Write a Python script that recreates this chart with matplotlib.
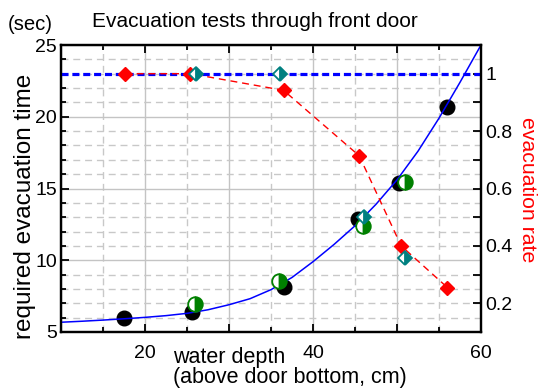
import matplotlib
matplotlib.use("Agg")
import matplotlib.pyplot as plt
from matplotlib.ticker import MultipleLocator, FixedLocator, FixedFormatter

plt.rcParams['font.family'] = ['Liberation Sans', 'DejaVu Sans']

# ---- data ----
time_black_x = [17.5, 25.6, 36.5, 45.3, 50.2, 55.9]
time_black_y = [5.95, 6.4, 8.12, 12.85, 15.4, 20.7]
time_green_x = [26.0, 36.0, 46.0, 51.0]
time_green_y = [6.95, 8.55, 12.4, 15.45]

curve_x = [10, 12.5, 15, 17.5, 20, 22.5, 25, 27.5, 30, 32.5, 35, 37.5, 40,
           42.5, 45, 47.5, 50, 52.5, 55, 57.5, 60]
curve_y = [5.68, 5.75, 5.83, 5.92, 6.02, 6.14, 6.3, 6.55, 6.9, 7.32, 7.95,
           8.8, 9.9, 11.1, 12.4, 13.9, 15.6, 17.6, 19.9, 22.4, 25.0]

rate_red_x = [17.6, 25.4, 36.5, 45.5, 50.5, 56.0]
rate_red_y = [1.0, 1.0, 0.942, 0.714, 0.40, 0.255]
rate_teal_x = [26.1, 36.1, 46.05, 51.0]
rate_teal_y = [1.0, 1.0, 0.50, 0.357]
rate_full = 1.0

xtick_vals = [10, 20, 30, 40, 50, 60]
xtick_labels = ['', '20', '', '40', '', '60']
ytick_vals = [5, 10, 15, 20, 25]
rtick_vals = [0.2, 0.4, 0.6, 0.8, 1.0]
rtick_labels = ['0.2', '0.4', '0.6', '0.8', '1']

# ---- figure ----
W, H = 539, 392
fig = plt.figure(figsize=(W / 100, H / 100), dpi=100)
ax = fig.add_axes([61 / W, 1 - 332 / H, 420 / W, 287 / H])
ax2 = ax.twinx()

ax.set_xlim(10, 60)
ax.set_ylim(5, 25)
ax2.set_ylim(0.1, 1.1)

ax.xaxis.set_major_locator(FixedLocator(xtick_vals))
ax.xaxis.set_major_formatter(FixedFormatter(xtick_labels))
ax.xaxis.set_minor_locator(MultipleLocator(5))
ax.yaxis.set_major_locator(FixedLocator(ytick_vals))
ax.yaxis.set_minor_locator(MultipleLocator(1))
ax2.yaxis.set_major_locator(FixedLocator(rtick_vals))
ax2.yaxis.set_major_formatter(FixedFormatter(rtick_labels))
ax2.yaxis.set_minor_locator(MultipleLocator(0.1))

ax.set_axisbelow(True)
ax.grid(which='major', color='#c4c4c4', linewidth=1.0, linestyle='-')
ax.grid(which='minor', color='#c8c8c8', linewidth=1.0, linestyle=(0, (5, 3.5)))

for a in (ax, ax2):
    for s in a.spines.values():
        s.set_linewidth(1.6)
        s.set_color('black')

ax.tick_params(axis='both', which='both', direction='in', top=True, right=False,
               width=1.3, labelsize=14)
ax.tick_params(axis='both', which='major', length=6)
ax.tick_params(axis='both', which='minor', length=3.5)
ax.tick_params(axis='x', which='both', pad=9)
ax.tick_params(axis='y', which='both', pad=3)
ax2.tick_params(axis='y', which='both', direction='in', width=1.3, labelsize=14, pad=3)
ax2.tick_params(axis='y', which='major', length=5.5)
ax2.tick_params(axis='y', which='minor', length=5.5)

# left axis: time
ax.plot(time_black_x, time_black_y, linestyle='none', marker='o', markersize=10.5,
        color='black', zorder=3)
ax.plot(curve_x, curve_y, color='#0000ff', linewidth=1.1, zorder=4)
ax.plot(time_green_x, time_green_y, linestyle='none', marker='o', markersize=10.5,
        markerfacecolor='#008000', markerfacecoloralt='white', fillstyle='right',
        markeredgecolor='#008000', markeredgewidth=1.3, zorder=5)

# right axis: rate
ax2.axhline(rate_full, color='#0000ff', linewidth=2.3, linestyle=(0, (2.2, 1.2)), zorder=2)
ax2.plot(rate_red_x, rate_red_y, color='#ff0000', linewidth=1.0,
         linestyle=(0, (5, 3.5)), zorder=3)
ax2.plot(rate_red_x, rate_red_y, linestyle='none', marker='D', markersize=7.2,
         color='#ff0000', zorder=4)
ax2.plot(rate_teal_x, rate_teal_y, linestyle='none', marker='D', markersize=7.0,
         markerfacecolor='#008080', markerfacecoloralt='white', fillstyle='right',
         markeredgecolor='#008080', markeredgewidth=1.3, zorder=5)

# texts
fig.text(255 / W, 1 - 27 / H, 'Evacuation tests through front door', ha='center',
         va='baseline', fontsize=15)
fig.text(30 / W, 1 - 30 / H, '(sec)', ha='center', va='baseline', fontsize=14.6)
fig.text(25 / W, 1 - 206 / H, 'required evacuation time', ha='center', va='center',
         rotation=90, fontsize=17.5)
fig.text(528 / W, 1 - 190 / H, 'evacuation rate', ha='center', va='center',
         rotation=-90, fontsize=15.3, color='#ff0000')
fig.text(173 / W, 1 - 363 / H, 'water depth', ha='left', va='baseline', fontsize=15.5)
fig.text(173 / W, 1 - 383 / H, '(above door bottom, cm)', ha='left', va='baseline',
         fontsize=15.5)

fig.savefig('out.png', dpi=100)
